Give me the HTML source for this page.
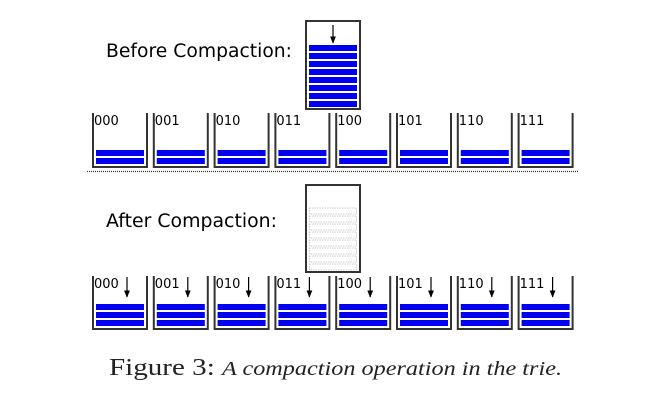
<!DOCTYPE html>
<html><head><meta charset="utf-8"><style>
html,body{margin:0;padding:0;background:#fff;width:661px;height:404px;overflow:hidden}
svg{display:block}
.cap{font-family:"Liberation Serif","Times New Roman",serif}
.lbl{font-family:"DejaVu Sans","Liberation Sans",sans-serif}
</style></head><body>
<svg id="fig" width="661" height="404" viewBox="0 0 661 404" xmlns="http://www.w3.org/2000/svg">
<defs><marker id="ah" viewBox="0 0 10 10" refX="9" refY="5" markerWidth="6" markerHeight="6" orient="auto"><path d="M0,1 L10,5 L0,9 z" fill="#000"/></marker></defs>
<text class="lbl" x="106" y="57" font-size="18.5" fill="#000" textLength="186" lengthAdjust="spacingAndGlyphs">Before Compaction:</text>
<text class="lbl" x="106" y="227" font-size="18.5" fill="#000" textLength="171" lengthAdjust="spacingAndGlyphs">After Compaction:</text>
<line x1="87" y1="171.5" x2="578" y2="171.5" stroke="#333" stroke-width="1.2" stroke-dasharray="1,1"/>
<text class="cap" x="109" y="375" fill="#222" textLength="453" lengthAdjust="spacingAndGlyphs"><tspan font-size="24">Figure 3: </tspan><tspan font-size="20" font-style="italic">A compaction operation in the trie.</tspan></text>
</svg>
<script>
const bucketLabels = ['000','001','010','011','100','101','110','111'];
const beforeCounts = [2,2,2,2,2,2,2,2];
const afterCounts = [3,3,3,3,3,3,3,3];
const bufferBeforeCount = 8;
const bufferAfterCount = 8;

const NS='http://www.w3.org/2000/svg';
const svg=document.getElementById('fig');
function mk(tag,attrs){const e=document.createElementNS(NS,tag);for(const k in attrs)e.setAttribute(k,attrs[k]);svg.appendChild(e);return e;}
const x0=93, pitch=60.8, bw=54;
function drawRow(top,bottom,counts,arrows,prefix){
  counts.forEach((c,i)=>{
    const x=x0+i*pitch;
    const p=mk('path',{d:`M${x},${top} L${x},${bottom} L${x+bw},${bottom} L${x+bw},${top}`,fill:'none',stroke:'#333','stroke-width':2});
    
    
    const t=mk('text',{x:x+1,y:top+12,'font-size':13,fill:'#000','class':'lbl'});
    t.textContent=bucketLabels[i];
    
    
    for(let j=0;j<c;j++){
      const y=bottom-3-6-j*8;
      const r=mk('rect',{x:x+3,y:y,width:48,height:6,fill:'#0000ee'});
      
      
    }
    if(arrows){
      const a=mk('line',{x1:x+34,y1:top+1,x2:x+34,y2:top+21,stroke:'#000','stroke-width':1.2,'marker-end':'url(#ah)'});
      
      
    }
  });
}
function drawBuffer(top,bottom,n,filled,prefix){
  const b=mk('rect',{x:306,y:top,width:54,height:bottom-top,fill:'#fff',stroke:'#333','stroke-width':2});
  
  
  for(let j=0;j<n;j++){
    const y=bottom-2-6-(n-1-j)*8;
    const r=mk('rect',filled?{x:309,y:y,width:48,height:6,fill:'#0000ee'}:{x:309.5,y:y,width:47,height:6,fill:'none',stroke:'#bbb','stroke-width':0.7,'stroke-dasharray':'1.5,1'});
    
    
  }
  if(filled){
    const a=mk('line',{x1:333,y1:top+4,x2:333,y2:top+22,stroke:'#000','stroke-width':1.2,'marker-end':'url(#ah)'});
    
    
  }
}
drawRow(113,167,beforeCounts,false,'before');
drawBuffer(21,109,bufferBeforeCount,true,'before');
drawRow(276,329,afterCounts,true,'after');
drawBuffer(185,272,bufferAfterCount,false,'after');
</script>
</body></html>
